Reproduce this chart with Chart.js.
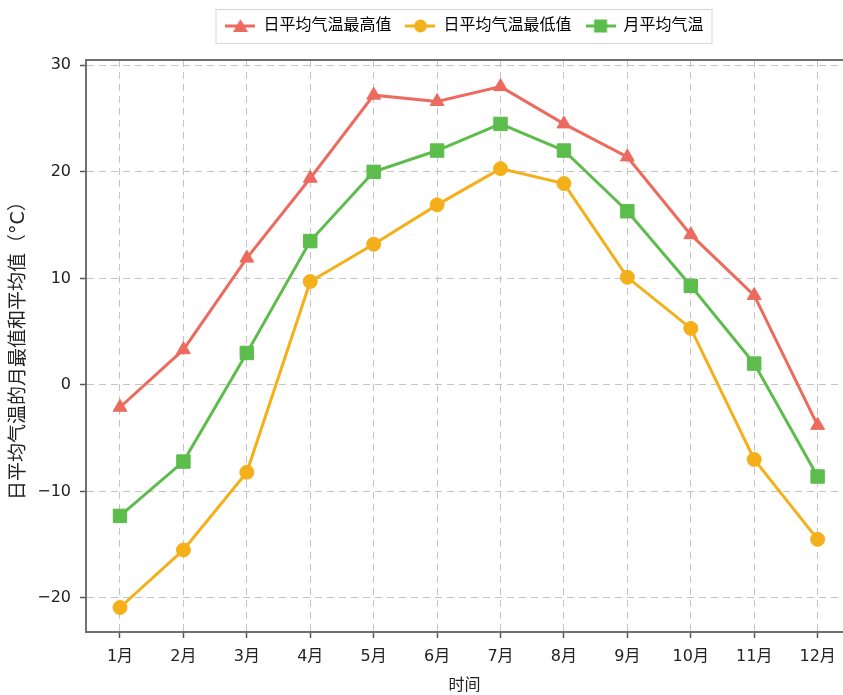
<!DOCTYPE html>
<html>
<head>
<meta charset="utf-8">
<script src="https://cdn.jsdelivr.net/npm/chart.js@4"></script>
<style>
  html, body { margin: 0; padding: 0; background: #fff; }
  #wrap { width: 843px; height: 695px; }
</style>
</head>
<body>
<div id="wrap"><canvas id="tempChart" width="843" height="695"></canvas></div>
<script>
// data
const months = ['1月', '2月', '3月', '4月', '5月', '6月', '7月', '8月', '9月', '10月', '11月', '12月'];
const highTemps = [-2.1, 3.3, 11.9, 19.4, 27.2, 26.6, 28.0, 24.5, 21.4, 14.1, 8.4, -3.8];
const lowTemps = [-20.9, -15.5, -8.2, 9.7, 13.2, 16.9, 20.3, 18.9, 10.1, 5.3, -7.0, -14.5];
const meanTemps = [-12.3, -7.2, 3.0, 13.5, 20.0, 22.0, 24.5, 22.0, 16.3, 9.3, 2.0, -8.6];
const yTicks = [-20, -10, 0, 10, 20, 30];

const seriesNames = ['日平均气温最高值', '日平均气温最低值', '月平均气温'];
const colors = ['#EC6B5E', '#F4B01B', '#5DBD4C'];
const FONT = '"DejaVu Sans", "Noto Sans CJK SC", sans-serif';

// legend icon: short line with marker through it
function legendIcon(color, style) {
    const c = document.createElement('canvas');
    c.width = 30; c.height = 18;
    const g = c.getContext('2d');
    g.strokeStyle = color;
    g.lineWidth = 3;
    g.beginPath(); g.moveTo(0, 9); g.lineTo(30, 9); g.stroke();
    g.fillStyle = color;
    g.beginPath();
    if (style === 'triangle') {
        g.moveTo(15, 2); g.lineTo(22.5, 15); g.lineTo(7.5, 15); g.closePath();
    } else if (style === 'circle') {
        g.arc(15, 9, 6.5, 0, Math.PI * 2);
    } else {
        g.rect(8.5, 2.5, 13, 13);
    }
    g.fill();
    return c;
}

function toPoints(arr) {
    return arr.map((v, i) => ({ x: i + 1, y: v }));
}

const styles = ['triangle', 'circle', 'rect'];
const radii = [8, 7, 9.5];
const datasets = [highTemps, lowTemps, meanTemps].map((arr, i) => ({
    label: seriesNames[i],
    data: toPoints(arr),
    borderColor: colors[i],
    backgroundColor: colors[i],
    borderWidth: 3,
    pointStyle: styles[i],
    pointRadius: radii[i],
    pointBorderWidth: 1,
    tension: 0
}));

// extra gap below the legend, frame around plot area, border around legend
const framePlugin = {
    id: 'frame',
    beforeInit(chart) {
        const lg = chart.legend;
        if (lg) {
            const fit = lg.fit;
            lg.fit = function() {
                fit.call(this);
                this.height += 16;
            };
        }
    },
    afterDraw(chart) {
        const ctx = chart.ctx;
        const a = chart.chartArea;
        ctx.save();
        ctx.strokeStyle = '#707070';
        ctx.lineWidth = 2;
        ctx.strokeRect(a.left, a.top, a.right - a.left + 4, a.bottom - a.top);

        const boxes = chart.legend.legendHitBoxes;
        if (boxes && boxes.length) {
            const l = Math.min(...boxes.map(b => b.left)) - 10;
            const r = Math.max(...boxes.map(b => b.left + b.width)) + 8;
            const t = Math.min(...boxes.map(b => b.top)) - 9;
            const btm = Math.max(...boxes.map(b => b.top + b.height)) + 9;
            ctx.strokeStyle = '#d6d6d6';
            ctx.lineWidth = 1;
            ctx.strokeRect(l + 0.5, t + 0.5, r - l, btm - t);
        }
        ctx.restore();
    }
};

new Chart(document.getElementById('tempChart'), {
    type: 'line',
    data: { datasets: datasets },
    plugins: [framePlugin],
    options: {
        responsive: false,
        animation: false,
        layout: { autoPadding: false, padding: { top: 4, right: 0, left: 0, bottom: 0 } },
        plugins: {
            tooltip: { enabled: false },
            legend: {
                position: 'top',
                fullSize: false,
                labels: {
                    usePointStyle: true,
                    pointStyleWidth: 30,
                    padding: 14,
                    color: '#222',
                    font: { family: FONT, size: 16 },
                    generateLabels(chart) {
                        return chart.data.datasets.map((ds, i) => ({
                            text: ds.label,
                            pointStyle: legendIcon(colors[i], styles[i]),
                            fillStyle: colors[i],
                            strokeStyle: colors[i],
                            lineWidth: 0,
                            datasetIndex: i
                        }));
                    }
                }
            }
        },
        scales: {
            x: {
                type: 'linear',
                min: 0.464,
                max: 12.4,
                afterBuildTicks(scale) {
                    scale.ticks = months.map((m, i) => ({ value: i + 1 }));
                },
                afterFit(scale) {
                    scale.height = 63;
                    scale.paddingLeft = 0;
                    scale.paddingRight = 0;
                },
                ticks: {
                    autoSkip: false,
                    maxRotation: 0,
                    color: '#222',
                    font: { family: FONT, size: 16 },
                    padding: 9,
                    callback: (v) => months[v - 1]
                },
                grid: {
                    color: '#c4c4c4',
                    lineWidth: 1,
                    tickLength: 6,
                    tickColor: '#555',
                    tickWidth: 1.5,
                    tickBorderDash: []
                },
                border: { dash: [7, 5], color: '#707070', width: 2 },
                title: {
                    display: true,
                    text: '时间',
                    color: '#222',
                    font: { family: FONT, size: 16 },
                    padding: { top: 0, bottom: 0 }
                }
            },
            y: {
                min: -23.2,
                max: 30.5,
                afterBuildTicks(scale) {
                    scale.ticks = yTicks.map(v => ({ value: v }));
                },
                afterFit(scale) {
                    scale.width = 86;
                    scale.paddingTop = 0;
                    scale.paddingBottom = 0;
                },
                ticks: {
                    color: '#222',
                    font: { family: FONT, size: 16 },
                    padding: 9,
                    callback: (v) => String(v).replace('-', '\u2212')
                },
                grid: {
                    color: '#c4c4c4',
                    lineWidth: 1,
                    tickLength: 6,
                    tickColor: '#555',
                    tickWidth: 1.5,
                    tickBorderDash: []
                },
                border: { dash: [7, 5], color: '#707070', width: 2 },
                title: {
                    display: true,
                    text: '日平均气温的月最值和平均值（°C）',
                    color: '#222',
                    font: { family: FONT, size: 19 },
                    padding: { top: 8, bottom: 4 }
                }
            }
        }
    }
});
</script>
</body>
</html>
